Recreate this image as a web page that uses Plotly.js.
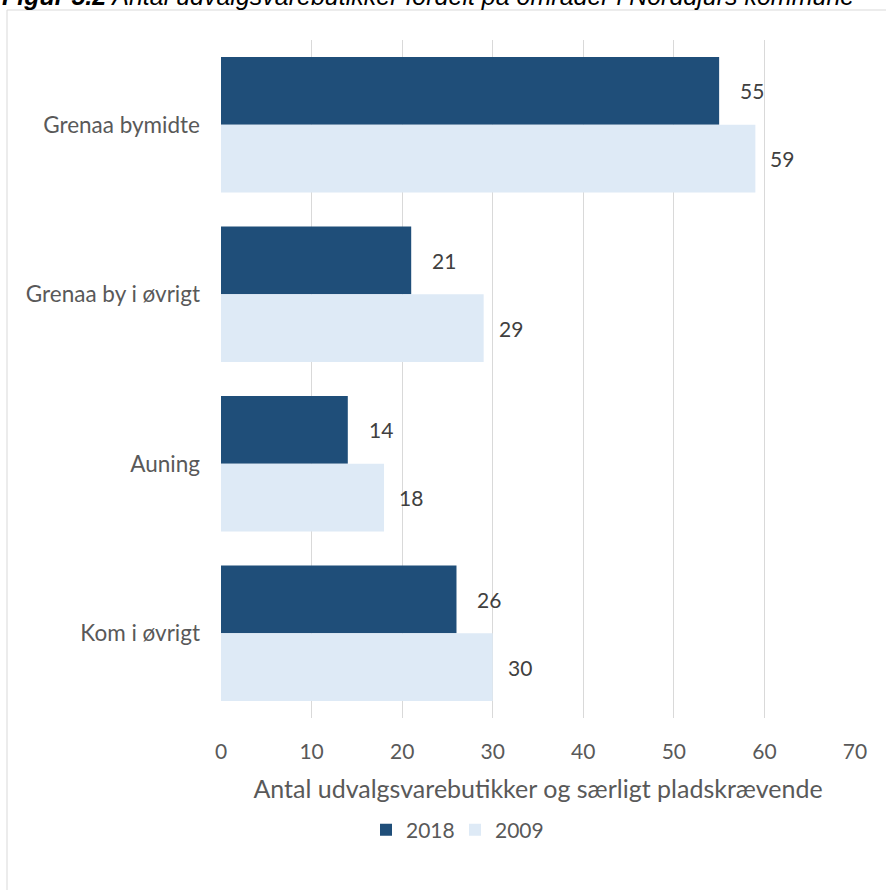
<!DOCTYPE html>
<html><head><meta charset="utf-8">
<script src="https://cdn.plot.ly/plotly-3.0.1.min.js"></script>
<style>html,body{margin:0;padding:0;background:#fff;}#chart{width:886px;height:890px;}</style>
</head><body><div id="chart"></div>
<script>
const categories = ["Grenaa bymidte", "Grenaa by i øvrigt", "Auning", "Kom i øvrigt"];
const values2018 = [55, 21, 14, 26];
const values2009 = [59, 29, 18, 30];
const seriesNames = ["2018", "2009"];
const xTicks = [0, 10, 20, 30, 40, 50, 60, 70];
const titleText = "<b>Figur 5.2</b> Antal udvalgsvarebutikker fordelt på områder i Norddjurs kommune";
const xTitle = "Antal udvalgsvarebutikker og særligt pladskrævende";

const W = 886, H = 890;
const m = {l: 221, r: 31, t: 40, b: 172};
const pw = W - m.l - m.r, ph = H - m.t - m.b;
const FONT = "Lato, 'Open Sans', sans-serif";
const TXT = "#595959";

const mk = (name, vals, color) => ({
  type: "bar", orientation: "h", name: name,
  x: vals, y: categories,
  marker: {color: color},
  hoverinfo: "x+y"
});

const data = [mk(seriesNames[0], values2018, "#1f4e79"), mk(seriesNames[1], values2009, "#deeaf6")];

// value labels, placed through the axes (category index +/- half a bar)
const labelAnn = [];
const series = [[values2018, -0.2, 22], [values2009, 0.2, 16]];
series.forEach(([vals, off, shift]) => {
  vals.forEach((v, i) => {
    labelAnn.push({
      xref: "x", yref: "y", x: v, y: i + off,
      xanchor: "left", yanchor: "middle", xshift: shift - 3,
      text: String(v), showarrow: false,
      font: {family: FONT, size: 21, color: "#404040"}
    });
  });
});

const layout = {
  width: W, height: H,
  margin: m,
  paper_bgcolor: "#fff", plot_bgcolor: "#fff",
  font: {family: FONT, size: 21, color: TXT},
  barmode: "group", bargap: 0.2, bargroupgap: 0,
  xaxis: {
    range: [0, 70], tickvals: xTicks, ticktext: xTicks.map(String),
    showgrid: true, gridcolor: "#d9d9d9", gridwidth: 1,
    zeroline: false, showline: false,
    ticks: "", ticklabelstandoff: 19,
    tickfont: {family: FONT, size: 21, color: TXT},
    title: {text: xTitle, font: {family: FONT, size: 25, color: TXT}, standoff: 18}
  },
  yaxis: {
    autorange: "reversed", type: "category",
    showgrid: false, zeroline: false, showline: false,
    ticks: "", ticklabelstandoff: 20,
    tickfont: {family: FONT, size: 22.5, color: TXT}
  },
  showlegend: true,
  legend: {
    orientation: "h", x: (366 - m.l) / pw, xanchor: "left", xref: "paper",
    y: -(830 - (m.t + ph)) / ph, yanchor: "middle",
    font: {family: FONT, size: 21, color: TXT},
    traceorder: "normal", itemwidth: 30, tracegroupgap: 0,
    entrywidth: 44, entrywidthmode: "pixels"
  },
  annotations: labelAnn.concat([{
    xref: "paper", yref: "paper",
    x: -m.l / pw, y: 1 + (m.t + 4) / ph,
    xanchor: "left", yanchor: "middle",
    text: "<i>" + titleText + "</i>", showarrow: false,
    font: {family: "'Liberation Sans', Arial, sans-serif", size: 25, color: "#000"}
  }]),
  shapes: [{
    type: "rect", xref: "paper", yref: "paper",
    x0: (7 - m.l) / pw, x1: (W + 10 - m.l) / pw,
    y0: -(H + 10 - m.t - ph) / ph, y1: 1 + (m.t - 10) / ph,
    line: {color: "#d9d9d9", width: 1}, fillcolor: "rgba(0,0,0,0)", layer: "below"
  }]
};

Plotly.newPlot("chart", data, layout, {displayModeBar: false, staticPlot: true});
</script>
</body></html>
